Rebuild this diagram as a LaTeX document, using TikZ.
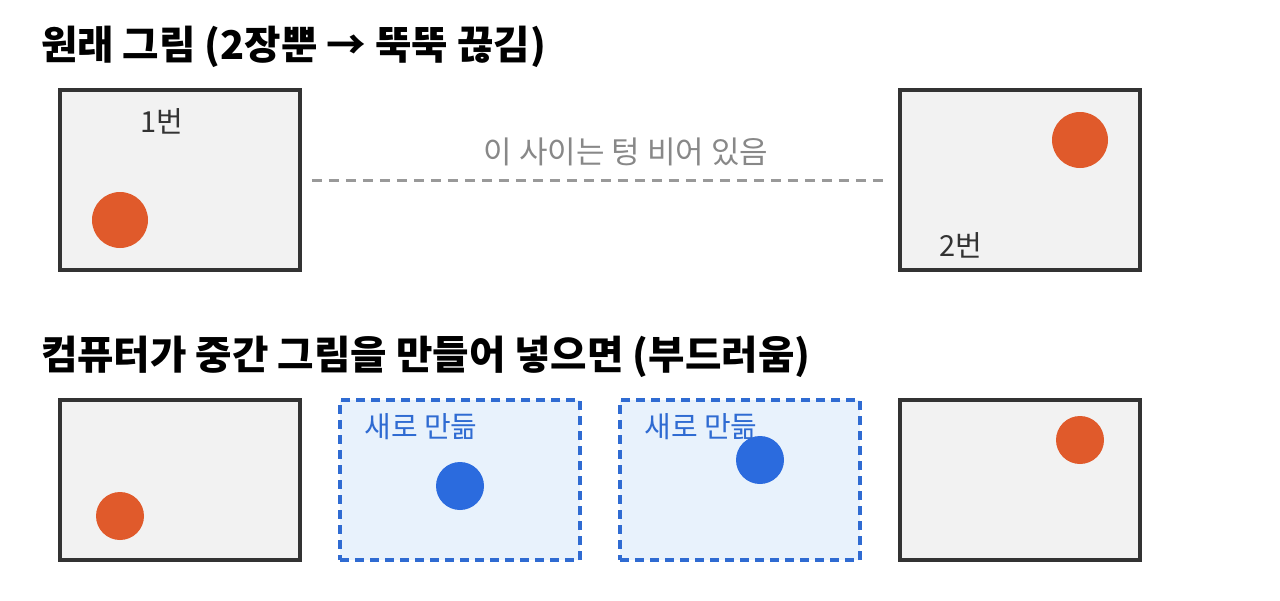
\documentclass[tikz,border=0pt]{standalone}
\usepackage{fontspec}
\setmainfont{Noto Sans CJK KR}
\usepackage{tikz}
\usetikzlibrary{positioning}

\definecolor{frameclr}{HTML}{333333}
\definecolor{paperclr}{HTML}{F2F2F2}
\definecolor{dotclr}{HTML}{E05A2B}
\definecolor{newclr}{HTML}{2F6BD2}
\definecolor{newfill}{HTML}{E8F2FC}
\definecolor{newdot}{HTML}{2B6BDE}
\definecolor{gapclr}{HTML}{999999}
\definecolor{gaptext}{HTML}{888888}

\begin{document}
\begin{tikzpicture}[x=0.5pt, y=-0.5pt,
    frame/.style={draw=frameclr, fill=paperclr, line width=1.8pt, minimum width=120pt},
    newframe/.style={draw=newclr, fill=newfill, line width=1.8pt, dash pattern=on 4.5pt off 3pt, minimum width=120pt, minimum height=80pt},
    ball/.style={circle, fill=dotclr, inner sep=0pt, minimum size=#1},
    newball/.style={circle, fill=newdot, inner sep=0pt, minimum size=24pt},
    heading/.style={anchor=west, font=\bfseries\fontsize{19.8}{22}\selectfont, text=black},
    tag/.style={font=\fontsize{14.5}{16}\selectfont, text=frameclr}]
    \useasboundingbox (0,0) rectangle (1280,600);
    % top row: only two frames
    \node[heading] (title1) at (34,47) {원래 그림 (2장뿐 → 뚝뚝 끊김)};
    \node[frame, minimum height=90pt] (f1) at (180,180) {};
    \node[frame, minimum height=90pt] (f2) at (1020,180) {};
    \node[ball=28pt] (d1) at (120,220) {};
    \node[ball=28pt] (d2) at (1080,140) {};
    \node[tag] (l1) at (162,121) {1번};
    \node[tag] (l2) at (961,245) {2번};
    \draw[gapclr, line width=1.5pt, dash pattern=on 5pt off 3.5pt, shorten <=5pt, shorten >=5pt] (f1) -- (f2);
    \node[tag, font=\fontsize{15.5}{17}\selectfont, text=gaptext] (gap) at (626,152) {이 사이는 텅 비어 있음};
    % bottom row: in-between frames filled in
    \node[heading] (title2) at (34,357) {컴퓨터가 중간 그림을 만들어 넣으면 (부드러움)};
    \node[frame, minimum height=80pt] (g1) at (180,480) {};
    \node[newframe] (g2) at (460,480) {};
    \node[newframe] (g3) at (740,480) {};
    \node[frame, minimum height=80pt] (g4) at (1020,480) {};
    \node[ball=24pt] (e1) at (120,516) {};
    \node[newball] (e2) at (460,486) {};
    \node[newball] (e3) at (760,460) {};
    \node[ball=24pt] (e4) at (1080,440) {};
    \node[tag, text=newclr] (n2) at (421,427) {새로 만듦};
    \node[tag, text=newclr] (n3) at (701,427) {새로 만듦};
\end{tikzpicture}
\end{document}
